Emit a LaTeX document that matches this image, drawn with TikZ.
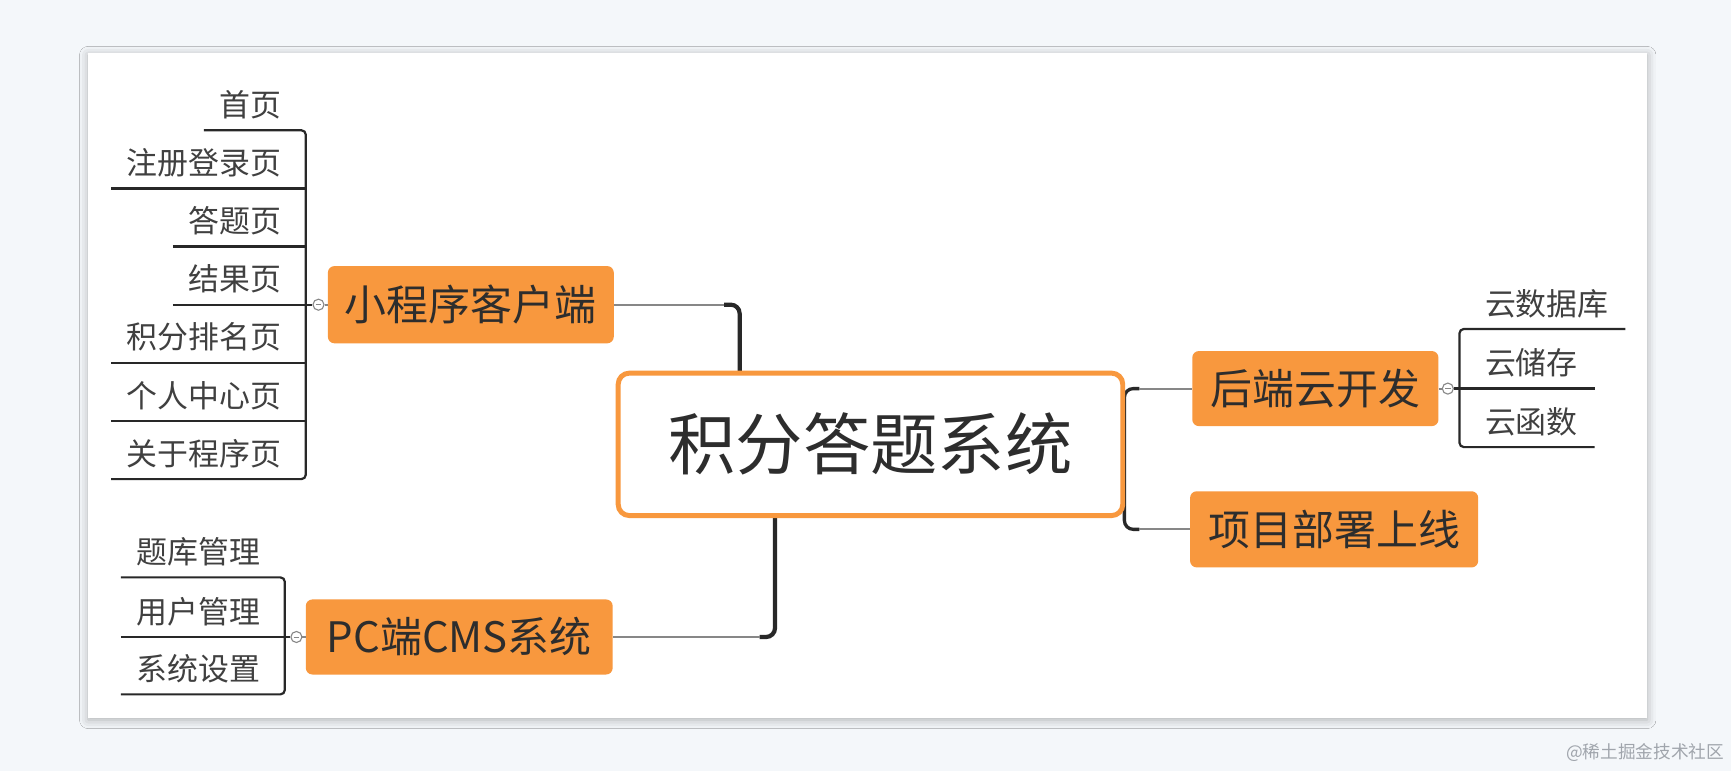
\documentclass[tikz,border=0pt]{standalone}
\usepackage{fontspec}
\setmainfont{Noto Sans CJK SC}
\usetikzlibrary{shadows.blur}
\definecolor{bgc}{RGB}{244,247,250}
\definecolor{orng}{RGB}{248,152,62}
\definecolor{inkc}{RGB}{45,45,45}
\definecolor{leafink}{RGB}{64,64,64}
\definecolor{connc}{RGB}{135,135,135}
\definecolor{spinec}{RGB}{40,40,40}
\definecolor{wmc}{RGB}{160,165,172}
\begin{document}
\begin{tikzpicture}[x=1pt,y=-1pt,
  leafL/.style={inner sep=0pt, anchor=south east, text height=25pt, text depth=12.4pt,
    font=\fontsize{28}{32}\selectfont, text=leafink,
    execute at begin node={\hspace*{14pt}}, execute at end node={\hspace*{22pt}}},
  leafR/.style={inner sep=0pt, anchor=south west, text height=25pt, text depth=12.4pt,
    font=\fontsize{28}{32}\selectfont, text=leafink,
    execute at begin node={\hspace*{23pt}}, execute at end node={\hspace*{15pt}}},
  leafline/.style={draw=spinec, line width=2pt},
  spineline/.style={draw=spinec, line width=3.8pt},
  connline/.style={draw=connc, line width=1.8pt},
  mainbox/.style={fill=orng, rounded corners=6pt, inner sep=0pt,
    font=\fontsize{38}{44}\selectfont, text=inkc},
  collapse/.style={circle, draw=connc, fill=white, line width=1pt, minimum size=10pt, inner sep=0pt},
]
% background and card
\fill[bgc] (0,0) rectangle (1568,698.4);
\useasboundingbox (0,0) rectangle (1568,698.4);
\fill[white, blur shadow={shadow blur radius=8pt, shadow xshift=0pt, shadow yshift=-2pt, shadow opacity=30}]
  (80,48) rectangle (1492,650);

% main topics
\node[mainbox, minimum width=259pt, minimum height=70pt] (b1) at (426.5,276) {小程序客户端};
\node[mainbox, minimum width=278pt, minimum height=68pt] (b2) at (416,577) {PC端CMS系统};
\node[mainbox, minimum width=223pt, minimum height=68pt] (b3) at (1191.5,352) {后端云开发};
\node[mainbox, minimum width=261pt, minimum height=69pt] (b4) at (1208.5,479.5) {项目部署上线};

% bend points of main connectors
\coordinate (t1) at (670,276);   \coordinate (t1e) at (656,276);
\coordinate (t2) at (702,577);   \coordinate (t2e) at (688,577);
\coordinate (t3) at (1018.5,352);  \coordinate (t3e) at (1032,352);
\coordinate (t4) at (1018.5,479.5);\coordinate (t4e) at (1032,479.5);

\coordinate (rootc) at (788.5,402.5);
\draw[spineline, rounded corners=8pt] (t1 |- 0,340) -- (t1) -- (t1e);
\draw[connline] (t1e) -- (b1.east);
\draw[spineline, rounded corners=8pt] (t2 |- 0,465) -- (t2) -- (t2e);
\draw[connline] (t2e) -- (b2.east);
\draw[draw=spinec, line width=3pt, rounded corners=8pt] (t3e) -- (t3) -- (t4) -- (t4e);
\draw[connline] (t3e) -- (b3.west);
\draw[connline] (t4e) -- (b4.west);

% root
\node[draw=orng, line width=4.5pt, fill=white, rounded corners=10pt,
  minimum width=457pt, minimum height=129pt, inner sep=0pt,
  font=\fontsize{61}{70}\selectfont, text=inkc] (root) at (rootc) {积分答题系统};

% leaves of 小程序客户端
\node[leafL] (la1) at (277,118) {首页};
\node[leafL] (la2) at (277,170.7) {注册登录页};
\node[leafL] (la3) at (277,223.3) {答题页};
\node[leafL] (la4) at (277,276) {结果页};
\node[leafL] (la5) at (277,328.7) {积分排名页};
\node[leafL] (la6) at (277,381.3) {个人中心页};
\node[leafL] (la7) at (277,434) {关于程序页};
\draw[leafline, rounded corners=4pt] (la1.south west) -- (la1.south east) -- (la7.south east) -- (la7.south west);
\foreach \i in {2,...,6} \draw[leafline] (la\i.south west) -- (la\i.south east);
\node[collapse] (ca) at (288.5,276) {};
\draw[leafline] (ca.west) -- (la4.south east);
\draw[connline] (ca.east) -- (b1.west);
\draw[connc, line width=0.8pt] ([xshift=-2.5pt]ca.center) -- ([xshift=2.5pt]ca.center);

% leaves of PC端CMS系统
\node[leafL] (lb1) at (258,523) {题库管理};
\node[leafL] (lb2) at (258,577) {用户管理};
\node[leafL] (lb3) at (258,629) {系统设置};
\draw[leafline, rounded corners=4pt] (lb1.south west) -- (lb1.south east) -- (lb3.south east) -- (lb3.south west);
\draw[leafline] (lb2.south west) -- (lb2.south east);
\node[collapse] (cb) at (268.5,577) {};
\draw[leafline] (cb.west) -- (lb2.south east);
\draw[connline] (cb.east) -- (b2.west);
\draw[connc, line width=0.8pt] ([xshift=-2.5pt]cb.center) -- ([xshift=2.5pt]cb.center);

% leaves of 后端云开发
\node[leafR] (lc1) at (1322,298) {云数据库};
\node[leafR] (lc2) at (1322,352) {云储存};
\node[leafR] (lc3) at (1322,405) {云函数};
\draw[leafline, rounded corners=4pt] (lc1.south east) -- (lc1.south west) -- (lc3.south west) -- (lc3.south east);
\draw[leafline] (lc2.south west) -- (lc2.south east);
\node[collapse] (cc) at (1311.5,352) {};
\draw[leafline] (cc.east) -- (lc2.south west);
\draw[connline] (b3.east) -- (cc.west);
\draw[connc, line width=0.8pt] ([xshift=-2.5pt]cc.center) -- ([xshift=2.5pt]cc.center);

% watermark
\node[anchor=east, inner sep=0pt, font=\fontsize{16}{18}\selectfont, text=wmc] (wm) at (1562,682) {@稀土掘金技术社区};
\end{tikzpicture}
\end{document}
